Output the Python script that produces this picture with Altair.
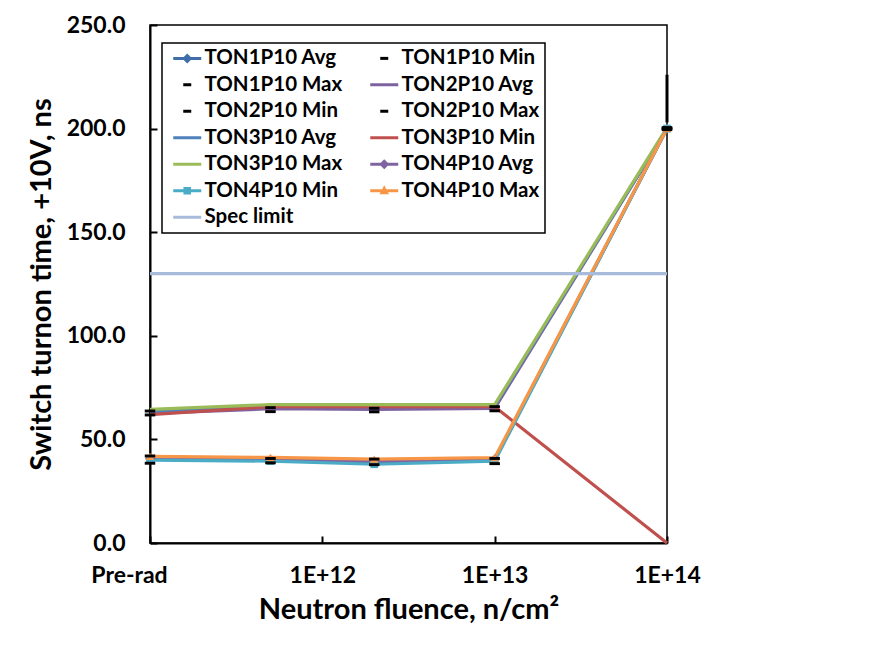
import altair as alt
import pandas as pd

# ---------------- data ----------------
x_vals = [1e11, 5e11, 2e12, 1e13, 1e14]   # 1e11 plotted as "Pre-rad"
x_tick_values = [1e11, 1e12, 1e13, 1e14]
x_tick_labels = ["Pre-rad", "1E+12", "1E+13", "1E+14"]
y_tick_values = [0, 50, 100, 150, 200, 250]

series_names = [
    "TON1P10 Avg", "TON1P10 Min", "TON1P10 Max", "TON2P10 Avg",
    "TON2P10 Min", "TON2P10 Max", "TON3P10 Avg", "TON3P10 Min",
    "TON3P10 Max", "TON4P10 Avg", "TON4P10 Min", "TON4P10 Max",
    "Spec limit",
]
ton1_avg = [40.5, 40.0, 39.2, 40.0, 200.0]
ton1_min = [38.5, 38.7, 37.8, 38.3, 199.5]
ton1_max = [42.0, 40.8, 40.5, 40.8, 200.5]
ton2_avg = [62.5, 64.8, 64.5, 65.0, 200.0]
ton2_min = [61.8, 63.4, 63.3, 63.8, 200.0]
ton2_max = [63.7, 65.3, 65.0, 65.8, 200.0]
ton3_avg = [63.5, 66.2, 66.2, 66.2, 200.0]
ton3_min = [62.0, 65.8, 65.8, 65.8, 0.0]
ton3_max = [64.5, 66.8, 66.8, 66.8, 200.5]
ton4_avg = [40.8, 40.3, 39.5, 40.5, 200.0]
ton4_min = [40.0, 39.5, 38.0, 39.5, 200.0]
ton4_max = [41.8, 41.3, 40.5, 41.2, 200.0]
spec_limit = [130, 130, 130, 130, 130]

# vertical black bar drawn at 1E+14
bar_x = [1e14]
bar_lo = [203]
bar_hi = [226]

series_values = [ton1_avg, ton1_min, ton1_max, ton2_avg, ton2_min, ton2_max,
                 ton3_avg, ton3_min, ton3_max, ton4_avg, ton4_min, ton4_max,
                 spec_limit]

series_colors = ["#3F6FA8", "#000000", "#000000", "#7E62A0",
                 "#000000", "#000000", "#4F81BD", "#C0504D",
                 "#9BBB59", "#8064A2", "#4BACC6", "#F79646",
                 "#A9BBDB"]

rows = []
for order, (name, vals) in enumerate(zip(series_names, series_values)):
    for x, y in zip(x_vals, vals):
        rows.append({"series": name, "lseries": name, "x": x, "y": y, "order": order})
df = pd.DataFrame(rows)
bar_df = pd.DataFrame({"x": bar_x, "lo": bar_lo, "hi": bar_hi})

dash_series = ["TON1P10 Min", "TON1P10 Max", "TON2P10 Min", "TON2P10 Max"]
line_series = [s for s in series_names if s not in dash_series]

# ---------------- legend symbols (unit = 10 px, symbol spans -0.4..2.4) ----------------
LINE = "M-0.4,-0.15L2.4,-0.15L2.4,0.15L-0.4,0.15Z"
DIAM = LINE + "M0.5,0L1,-0.5L1.5,0L1,0.5Z"
SQR = LINE + "M0.62,-0.38L1.38,-0.38L1.38,0.38L0.62,0.38Z"
TRI = LINE + "M1,-0.55L1.48,0.35L0.52,0.35Z"
DASH = "M0.6,-0.15L1.4,-0.15L1.4,0.15L0.6,0.15Z"
legend_shapes = [DIAM, DASH, DASH, LINE, DASH, DASH, LINE, LINE, LINE,
                 DIAM, SQR, TRI, LINE]

FONT = "Lato"

cscale = alt.Scale(domain=series_names, range=series_colors)
xscale = alt.Scale(type="log", domain=[1e11, 1e14], nice=False)
yscale = alt.Scale(domain=[0, 250], nice=False)

label_expr = " : ".join(
    f"datum.value < {v * 2:g} ? '{l}'" for v, l in zip(x_tick_values[:-1], x_tick_labels[:-1])
) + f" : '{x_tick_labels[-1]}'"

x_enc = alt.X(
    "x:Q", scale=xscale,
    axis=alt.Axis(
        title="Neutron fluence, n/cm²", values=x_tick_values, labelExpr=label_expr,
        grid=False, tickSize={"expr": "-7"}, labelPadding=28, labelFlush=False,
        labelOffset={"condition": {"test": "datum.value < 2e11", "value": -21}, "value": 0},
        titlePadding=8,
    ),
)
y_enc = alt.Y(
    "y:Q", scale=yscale,
    axis=alt.Axis(
        title="Switch turnon time, +10V, ns", values=y_tick_values, format=".1f",
        grid=False, tickSize={"expr": "-7"}, labelPadding=32, titlePadding=10,
    ),
)

base = alt.Chart(df)

lines = base.transform_filter(
    alt.FieldOneOfPredicate(field="series", oneOf=line_series)
).mark_line(strokeWidth=3.2, strokeJoin="round").encode(
    x=x_enc, y=y_enc,
    color=alt.Color("series:N", scale=cscale, legend=None),
    detail="series:N",
    order="order:Q",
)

def pts(names, shape, size):
    return base.transform_filter(
        alt.FieldOneOfPredicate(field="series", oneOf=names)
    ).mark_point(shape=shape, size=size, filled=True, opacity=1).encode(
        x="x:Q", y="y:Q",
        color=alt.Color("series:N", scale=cscale, legend=None),
    )

diamonds = pts(["TON1P10 Avg", "TON4P10 Avg"], "diamond", 90)
squares = pts(["TON4P10 Min"], "square", 60)
triangles = pts(["TON4P10 Max"], "triangle-up", 70)
dashes = pts(dash_series, "M-1,-0.28L1,-0.28L1,0.28L-1,0.28Z", 110)

bar = alt.Chart(bar_df).mark_rule(color="black", strokeWidth=3).encode(
    x="x:Q", y="lo:Q", y2="hi:Q"
)

legend_layer = base.mark_point(filled=True, opacity=0).encode(
    x="x:Q", y="y:Q",
    color=alt.Color("lseries:N", scale=alt.Scale(domain=series_names, range=series_colors),
                    sort=series_names,
                    legend=alt.Legend(title=None, symbolOpacity=1, direction="horizontal",
                                      columns=2)),
    shape=alt.Shape("lseries:N", sort=series_names,
                    scale=alt.Scale(domain=series_names, range=legend_shapes),
                    legend=alt.Legend(title=None, symbolOpacity=1, direction="horizontal",
                                      columns=2)),
)

chart = alt.layer(
    lines, diamonds, squares, triangles, dashes, bar, legend_layer
).resolve_scale(
    color="independent", shape="independent"
).resolve_legend(
    color="independent", shape="independent"
).properties(
    width=517, height=518,
    autosize=alt.AutoSizeParams(type="none"),
    padding={"left": 142, "top": 17, "right": 200, "bottom": 90},
).configure_view(
    stroke="black", strokeWidth=1.5
).configure_axis(
    domainColor="black", domainWidth=2, tickColor="black", tickWidth=2,
    labelFont=FONT, labelFontSize=23, labelFontWeight="bold", labelColor="black",
    titleFont=FONT, titleFontSize=29, titleFontWeight="bold", titleColor="black",
).configure_legend(
    orient="none", legendX=12, legendY=18, columns=2,
    strokeColor="black", strokeWidth=1.5, fillColor="white",
    padding=5, rowPadding=5.5, columnPadding=21,
    symbolSize=400, symbolStrokeWidth=0, labelOffset=17,
    labelFont=FONT, labelFontSize=20.5, labelFontWeight="bold", labelColor="black",
    labelLimit=400,
)

chart.save("out.html", embed_options={"renderer": "svg", "actions": False})
